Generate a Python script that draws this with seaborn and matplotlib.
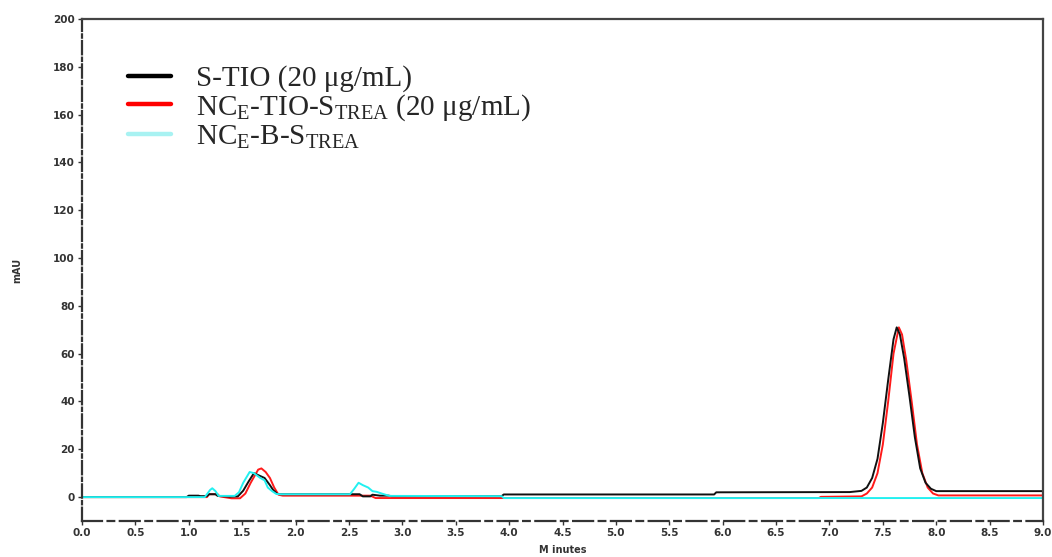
import matplotlib
matplotlib.use("Agg")
import matplotlib.pyplot as plt
import seaborn as sns
import pandas as pd
from matplotlib.lines import Line2D

# ---------------- data ----------------
series_names = [
    "S-TIO (20 μg/mL)",
    r"NC$_{\mathregular{E}}$-TIO-S$_{\mathregular{TREA}}$ (20 μg/mL)",
    r"NC$_{\mathregular{E}}$-B-S$_{\mathregular{TREA}}$",
]

black_t = [0, 0.98, 1.0, 1.09, 1.11, 1.17, 1.19, 1.25, 1.27, 1.39, 1.46, 1.51, 1.56,
           1.61, 1.66, 1.71, 1.76, 1.79, 1.83, 1.86, 2.60, 2.63, 2.70, 2.72, 2.79,
           2.87, 2.90, 3.93, 3.95, 5.92, 5.94, 7.19, 7.30, 7.35, 7.40, 7.45, 7.50,
           7.55, 7.60, 7.63, 7.66, 7.70, 7.75, 7.80, 7.85, 7.90, 7.95, 8.00, 9.00]
black_y = [0, 0, 0.6, 0.6, 0.4, 0.4, 1.2, 1.2, 0.5, 0.2, 0.3, 2.7, 6.5,
           10, 9, 8, 5, 3, 1.3, 1.2, 1.2, 0.3, 0.3, 1.0, 0.6,
           0.6, 0.4, 0.4, 1.1, 1.1, 2.0, 2.1, 2.6, 4, 8, 16, 31,
           49, 66, 71, 68, 58, 42, 25, 12, 6, 3.5, 2.5, 2.5]

red_t = [0, 1.17, 1.19, 1.27, 1.29, 1.40, 1.48, 1.53, 1.58, 1.65, 1.68, 1.72, 1.76,
         1.80, 1.84, 1.88, 2.70, 2.75, 3.93, 6.90, 6.92, 7.30, 7.35, 7.40, 7.45,
         7.50, 7.55, 7.60, 7.65, 7.68, 7.72, 7.77, 7.82, 7.87, 7.92, 7.97, 8.02, 9.00]
red_y = [0, 0, 1.2, 1.2, 0.3, -0.5, -0.5, 1.5, 6, 11.5, 12, 10.5, 8,
         4, 1, 0.6, 0.6, -0.4, -0.4, -0.4, 0.1, 0.3, 1.5, 4, 10,
         22, 40, 60, 71, 68, 57, 40, 22, 10, 4, 1.5, 0.7, 0.7]

cyan_t = [0, 1.15, 1.20, 1.22, 1.25, 1.28, 1.43, 1.47, 1.51, 1.57, 1.61, 1.67, 1.71,
          1.74, 1.78, 1.82, 1.86, 2.51, 2.55, 2.59, 2.63, 2.68, 2.72, 2.76, 2.82,
          2.88, 3.93, 3.95, 9.00]
cyan_y = [0, 0, 3, 3.7, 2.5, 0.5, 0.5, 2, 6, 10.5, 10, 8, 7,
          4, 2.5, 1.3, 1.2, 1.2, 3.5, 6, 5, 4, 2.5, 2.2, 1.3,
          0.5, 0.4, -0.4, -0.4]

x_ticks = [0.0, 0.5, 1.0, 1.5, 2.0, 2.5, 3.0, 3.5, 4.0, 4.5, 5.0, 5.5, 6.0,
           6.5, 7.0, 7.5, 8.0, 8.5, 9.0]
y_ticks = [0, 20, 40, 60, 80, 100, 120, 140, 160, 180, 200]

colors = ["#111111", "#ff1a1a", "#22f0f0"]
legend_colors = ["#000000", "#ff0000", "#a8f2f2"]

# ---------------- plot ----------------
sns.set_style("white")
plt.rcParams["font.family"] = ["DejaVu Sans"]

fig = plt.figure(figsize=(10.52, 5.57), dpi=100)
ax = fig.add_axes([82 / 1052, 36 / 557, 961 / 1052, 502 / 557])

df_b = pd.DataFrame({"t": black_t, "y": black_y})
df_r = pd.DataFrame({"t": red_t, "y": red_y})
df_c = pd.DataFrame({"t": cyan_t, "y": cyan_y})

sns.lineplot(data=df_r, x="t", y="y", ax=ax, color=colors[1], lw=1.4,
             sort=False, estimator=None)
sns.lineplot(data=df_b, x="t", y="y", ax=ax, color=colors[0], lw=1.4,
             sort=False, estimator=None)
sns.lineplot(data=df_c, x="t", y="y", ax=ax, color=colors[2], lw=1.4,
             sort=False, estimator=None)

ax.set_xlim(0, 9)
ax.set_ylim(-10, 200)
ax.set_xticks(x_ticks)
ax.set_xticklabels([f"{v:.1f}" for v in x_ticks])
ax.set_yticks(y_ticks)
ax.set_yticklabels([str(v) for v in y_ticks])
ax.tick_params(axis="both", which="major", labelsize=7.5, colors="#333333",
               length=3, width=1, direction="out", pad=2, bottom=True, left=True)
for lab in ax.get_xticklabels() + ax.get_yticklabels():
    lab.set_fontweight("bold")

ax.set_xlabel("M inutes", fontsize=7, fontweight="bold", color="#333333", labelpad=5)
ax.set_ylabel("mAU", fontsize=7, fontweight="bold", color="#333333", labelpad=22)

for side in ["top", "right"]:
    ax.spines[side].set_color("#444444")
    ax.spines[side].set_linewidth(1.6)
ax.spines["left"].set_color("#333333")
ax.spines["left"].set_linewidth(1.6)
ax.spines["left"].set_linestyle((0, (6, 1.5, 1.5, 1.5)))
ax.spines["bottom"].set_color("#333333")
ax.spines["bottom"].set_linewidth(1.6)
ax.spines["bottom"].set_linestyle((0, (9, 2.5, 3, 2.5)))

handles = [Line2D([0], [0], color=c, lw=3.2) for c in legend_colors]
ax.legend(handles, series_names, loc="upper left", bbox_to_anchor=(0.021, 0.96),
          frameon=False, handlelength=1.45, handletextpad=0.85, labelspacing=0.0,
          prop={"family": "Liberation Serif", "size": 21})

fig.savefig("out.png", dpi=100)
